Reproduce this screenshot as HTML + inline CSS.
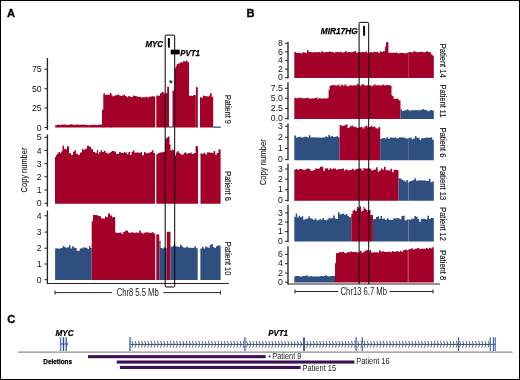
<!DOCTYPE html>
<html><head><meta charset="utf-8"><style>
html,body{margin:0;padding:0;background:#fff;}
body{width:520px;height:380px;overflow:hidden;}
svg{display:block;font-family:"Liberation Sans",sans-serif;will-change:transform;}
</style></head><body>
<svg width="520" height="380" viewBox="0 0 520 380">
<rect x="0" y="0" width="520" height="380" fill="#fff"/>
<path d="M55.20,127.50 L55.20,125.26 L56.78,125.26 L56.78,124.70 L58.35,124.70 L58.35,124.78 L59.93,124.78 L59.93,124.92 L61.51,124.92 L61.51,124.49 L63.08,124.49 L63.08,124.77 L64.66,124.77 L64.66,124.60 L66.24,124.60 L66.24,124.89 L67.81,124.89 L67.81,124.98 L69.39,124.98 L69.39,124.61 L70.97,124.61 L70.97,124.34 L72.54,124.34 L72.54,124.75 L74.12,124.75 L74.12,124.77 L75.70,124.77 L75.70,124.43 L77.27,124.43 L77.27,124.80 L78.85,124.80 L78.85,124.69 L80.43,124.69 L80.43,124.78 L82.00,124.78 L82.00,124.61 L83.58,124.61 L83.58,124.82 L85.16,124.82 L85.16,124.67 L86.73,124.67 L86.73,124.94 L88.31,124.94 L88.31,125.13 L89.89,125.13 L89.89,124.88 L91.46,124.88 L91.46,124.77 L93.04,124.77 L93.04,124.87 L94.62,124.87 L94.62,124.84 L96.19,124.84 L96.19,124.94 L97.77,124.94 L97.77,124.84 L99.35,124.84 L99.35,124.43 L100.92,124.43 L100.92,124.77 L102.50,124.77 L102.50,127.50Z" fill="#a3002a"/>
<path d="M102.00,127.50 L102.00,109.64 L103.30,109.64 L103.30,93.53 L104.97,93.53 L104.97,95.04 L106.65,95.04 L106.65,94.42 L108.33,94.42 L108.33,94.85 L110.00,94.85 L110.00,92.91 L111.50,92.91 L111.50,127.50Z" fill="#a3002a"/>
<path d="M111.00,127.50 L111.00,95.35 L112.56,95.35 L112.56,96.21 L114.11,96.21 L114.11,95.56 L115.67,95.56 L115.67,95.17 L117.22,95.17 L117.22,94.39 L118.78,94.39 L118.78,95.24 L120.33,95.24 L120.33,96.06 L121.89,96.06 L121.89,95.59 L123.44,95.59 L123.44,94.81 L125.00,94.81 L125.00,95.98 L126.60,95.98 L126.60,97.22 L128.20,97.22 L128.20,96.04 L129.80,96.04 L129.80,96.93 L131.40,96.93 L131.40,97.09 L133.00,97.09 L133.00,95.62 L134.50,95.62 L134.50,95.89 L136.00,95.89 L136.00,96.31 L137.60,96.31 L137.60,97.11 L139.20,97.11 L139.20,96.84 L140.80,96.84 L140.80,97.41 L142.40,97.41 L142.40,97.28 L144.00,97.28 L144.00,97.35 L145.60,97.35 L145.60,96.74 L147.20,96.74 L147.20,97.41 L148.80,97.41 L148.80,96.78 L150.40,96.78 L150.40,96.55 L152.00,96.55 L152.00,96.32 L153.60,96.32 L153.60,96.47 L155.20,96.47 L155.20,127.50Z" fill="#a3002a"/>
<path d="M156.30,127.50 L156.30,95.56 L158.15,95.56 L158.15,95.65 L160.00,95.65 L160.00,93.17 L161.83,93.17 L161.83,91.82 L163.67,91.82 L163.67,93.42 L165.50,93.42 L165.50,127.50Z" fill="#a3002a"/>
<path d="M165.50,127.50 L165.50,93.37 L167.20,93.37 L167.20,86.69 L169.00,86.69 L169.00,127.50Z" fill="#a3002a"/>
<path d="M172.50,127.50 L172.50,90.58 L174.50,90.58 L174.50,127.50Z" fill="#a3002a"/>
<path d="M174.80,127.50 L174.80,68.15 L175.80,68.15 L175.80,65.89 L176.80,65.89 L176.80,63.90 L178.00,63.90 L178.00,63.42 L179.00,63.42 L179.00,63.43 L180.00,63.43 L180.00,62.44 L181.00,62.44 L181.00,62.26 L182.00,62.26 L182.00,62.39 L183.00,62.39 L183.00,61.33 L184.00,61.33 L184.00,61.19 L185.00,61.19 L185.00,61.39 L186.00,61.39 L186.00,60.72 L186.75,60.72 L186.75,60.15 L187.50,60.15 L187.50,62.47 L188.25,62.47 L188.25,62.07 L189.00,62.07 L189.00,95.70 L190.00,95.70 L190.00,95.84 L191.00,95.84 L191.00,95.87 L192.00,95.87 L192.00,96.01 L193.00,96.01 L193.00,95.01 L193.93,95.01 L193.93,95.09 L194.87,95.09 L194.87,95.23 L195.80,95.23 L195.80,127.50Z" fill="#a3002a"/>
<path d="M195.90,127.50 L195.90,87.11 L196.85,87.11 L196.85,87.51 L197.80,87.51 L197.80,127.50Z" fill="#a3002a"/>
<path d="M200.00,127.50 L200.00,97.37 L201.50,97.37 L201.50,97.85 L203.00,97.85 L203.00,95.45 L204.17,95.45 L204.17,95.97 L205.33,95.97 L205.33,96.17 L206.50,96.17 L206.50,96.20 L207.67,96.20 L207.67,96.46 L208.83,96.46 L208.83,95.46 L210.00,95.46 L210.00,93.24 L211.70,93.24 L211.70,96.82 L213.20,96.82 L213.20,127.50Z" fill="#a3002a"/>
<rect x="169" y="126.4" width="3.5" height="1.2" fill="#2e4f80"/>
<rect x="213.2" y="126.5" width="7.6" height="1.3" fill="#2e4f80"/>
<line x1="47.4" y1="58" x2="47.4" y2="130" stroke="#262626" stroke-width="1.35"/>
<line x1="44.4" y1="69.25" x2="47.4" y2="69.25" stroke="#262626" stroke-width="1"/>
<text x="41.699999999999996" y="72.35" font-size="8.7" text-anchor="end" fill="#111">75</text>
<line x1="44.4" y1="88.75" x2="47.4" y2="88.75" stroke="#262626" stroke-width="1"/>
<text x="41.699999999999996" y="91.85" font-size="8.7" text-anchor="end" fill="#111">50</text>
<line x1="44.4" y1="108" x2="47.4" y2="108" stroke="#262626" stroke-width="1"/>
<text x="41.699999999999996" y="111.1" font-size="8.7" text-anchor="end" fill="#111">25</text>
<line x1="44.4" y1="127.5" x2="47.4" y2="127.5" stroke="#262626" stroke-width="1"/>
<text x="41.699999999999996" y="130.6" font-size="8.7" text-anchor="end" fill="#111">0</text>
<path d="M55.00,203.80 L55.00,157.00 L56.00,157.00 L56.00,155.15 L57.00,155.15 L57.00,153.64 L58.50,153.64 L58.50,152.12 L60.00,152.12 L60.00,153.37 L61.25,153.37 L61.25,151.34 L62.50,151.34 L62.50,145.83 L64.00,145.83 L64.00,148.67 L65.00,148.67 L65.00,149.34 L67.00,149.34 L67.00,146.18 L69.00,146.18 L69.00,153.32 L71.00,153.32 L71.00,155.10 L73.00,155.10 L73.00,151.69 L74.50,151.69 L74.50,150.34 L76.00,150.34 L76.00,154.05 L78.00,154.05 L78.00,154.82 L80.00,154.82 L80.00,152.56 L82.00,152.56 L82.00,148.85 L83.50,148.85 L83.50,149.99 L85.00,149.99 L85.00,148.63 L87.00,148.63 L87.00,145.77 L89.00,145.77 L89.00,146.81 L91.00,146.81 L91.00,149.24 L93.00,149.24 L93.00,152.12 L95.00,152.12 L95.00,152.86 L97.00,152.86 L97.00,149.95 L98.00,149.95 L98.00,153.95 L99.00,153.95 L99.00,152.14 L100.62,152.14 L100.62,150.34 L102.25,150.34 L102.25,151.93 L103.88,151.93 L103.88,150.70 L105.50,150.70 L105.50,152.71 L107.12,152.71 L107.12,153.55 L108.75,153.55 L108.75,153.36 L110.38,153.36 L110.38,151.78 L112.00,151.78 L112.00,151.12 L114.00,151.12 L114.00,151.57 L116.00,151.57 L116.00,153.94 L117.56,153.94 L117.56,153.72 L119.11,153.72 L119.11,151.93 L120.67,151.93 L120.67,152.79 L122.22,152.79 L122.22,152.92 L123.78,152.92 L123.78,152.13 L125.33,152.13 L125.33,152.53 L126.89,152.53 L126.89,154.29 L128.44,154.29 L128.44,151.91 L130.00,151.91 L130.00,155.03 L131.50,155.03 L131.50,151.82 L133.00,151.82 L133.00,150.60 L134.50,150.60 L134.50,152.66 L136.00,152.66 L136.00,152.43 L137.50,152.43 L137.50,152.47 L139.00,152.47 L139.00,153.09 L140.50,153.09 L140.50,151.95 L142.00,151.95 L142.00,155.31 L144.00,155.31 L144.00,152.10 L145.57,152.10 L145.57,153.30 L147.14,153.30 L147.14,153.32 L148.71,153.32 L148.71,152.77 L150.29,152.77 L150.29,151.97 L151.86,151.97 L151.86,150.24 L153.43,150.24 L153.43,152.93 L155.00,152.93 L155.00,203.80Z" fill="#a3002a"/>
<path d="M156.30,203.80 L156.30,154.20 L157.53,154.20 L157.53,153.54 L158.77,153.54 L158.77,152.68 L160.00,152.68 L160.00,152.40 L161.50,152.40 L161.50,152.13 L163.00,152.13 L163.00,151.63 L164.10,151.63 L164.10,152.22 L165.20,152.22 L165.20,138.80 L166.50,138.80 L166.50,137.39 L168.00,137.39 L168.00,136.55 L169.50,136.55 L169.50,144.50 L170.50,144.50 L170.50,150.50 L172.00,150.50 L172.00,149.59 L173.25,149.59 L173.25,150.15 L174.50,150.15 L174.50,155.50 L176.00,155.50 L176.00,152.53 L177.31,152.53 L177.31,151.00 L178.61,151.00 L178.61,152.65 L179.92,152.65 L179.92,154.01 L181.23,154.01 L181.23,154.72 L182.53,154.72 L182.53,154.61 L183.84,154.61 L183.84,152.76 L185.15,152.76 L185.15,152.58 L186.45,152.58 L186.45,153.81 L187.76,153.81 L187.76,153.17 L189.07,153.17 L189.07,153.26 L190.37,153.26 L190.37,152.55 L191.68,152.55 L191.68,154.05 L192.99,154.05 L192.99,153.56 L194.29,153.56 L194.29,153.08 L195.60,153.08 L195.60,145.88 L196.80,145.88 L196.80,146.17 L198.00,146.17 L198.00,203.80Z" fill="#a3002a"/>
<path d="M200.50,203.80 L200.50,153.59 L202.14,153.59 L202.14,153.81 L203.77,153.81 L203.77,152.64 L205.41,152.64 L205.41,154.39 L207.05,154.39 L207.05,152.32 L208.68,152.32 L208.68,152.40 L210.32,152.40 L210.32,152.71 L211.95,152.71 L211.95,152.95 L213.59,152.95 L213.59,151.00 L215.23,151.00 L215.23,154.67 L216.86,154.67 L216.86,153.08 L218.50,153.08 L218.50,149.43 L220.60,149.43 L220.60,203.80Z" fill="#a3002a"/>
<line x1="47.4" y1="134.4" x2="47.4" y2="206.6" stroke="#262626" stroke-width="1.35"/>
<line x1="44.4" y1="137.3" x2="47.4" y2="137.3" stroke="#262626" stroke-width="1"/>
<text x="41.699999999999996" y="140.4" font-size="8.7" text-anchor="end" fill="#111">5</text>
<line x1="44.4" y1="150.4" x2="47.4" y2="150.4" stroke="#262626" stroke-width="1"/>
<text x="41.699999999999996" y="153.5" font-size="8.7" text-anchor="end" fill="#111">4</text>
<line x1="44.4" y1="163.7" x2="47.4" y2="163.7" stroke="#262626" stroke-width="1"/>
<text x="41.699999999999996" y="166.79999999999998" font-size="8.7" text-anchor="end" fill="#111">3</text>
<line x1="44.4" y1="176.8" x2="47.4" y2="176.8" stroke="#262626" stroke-width="1"/>
<text x="41.699999999999996" y="179.9" font-size="8.7" text-anchor="end" fill="#111">2</text>
<line x1="44.4" y1="190" x2="47.4" y2="190" stroke="#262626" stroke-width="1"/>
<text x="41.699999999999996" y="193.1" font-size="8.7" text-anchor="end" fill="#111">1</text>
<line x1="44.4" y1="203.3" x2="47.4" y2="203.3" stroke="#262626" stroke-width="1"/>
<text x="41.699999999999996" y="206.4" font-size="8.7" text-anchor="end" fill="#111">0</text>
<path d="M55.10,279.90 L55.10,248.59 L56.64,248.59 L56.64,248.16 L58.19,248.16 L58.19,248.81 L59.73,248.81 L59.73,248.23 L61.28,248.23 L61.28,247.65 L62.82,247.65 L62.82,246.06 L64.37,246.06 L64.37,247.30 L65.91,247.30 L65.91,247.64 L67.46,247.64 L67.46,247.25 L69.00,247.25 L69.00,245.30 L70.50,245.30 L70.50,248.54 L72.04,248.54 L72.04,246.23 L73.58,246.23 L73.58,247.50 L75.12,247.50 L75.12,248.03 L76.67,248.03 L76.67,250.66 L78.21,250.66 L78.21,250.81 L79.75,250.81 L79.75,248.41 L81.29,248.41 L81.29,248.27 L82.83,248.27 L82.83,247.34 L84.38,247.34 L84.38,247.75 L85.92,247.75 L85.92,247.69 L87.46,247.69 L87.46,249.12 L89.00,249.12 L89.00,246.05 L90.30,246.05 L90.30,247.98 L91.70,247.98 L91.70,279.90Z" fill="#2e4f80"/>
<path d="M91.70,279.90 L91.70,221.28 L93.00,221.28 L93.00,214.94 L95.00,214.94 L95.00,214.95 L96.50,214.95 L96.50,215.28 L98.00,215.28 L98.00,216.01 L99.50,216.01 L99.50,216.14 L101.00,216.14 L101.00,218.42 L103.00,218.42 L103.00,218.41 L105.00,218.41 L105.00,216.45 L106.50,216.45 L106.50,217.23 L108.00,217.23 L108.00,213.45 L110.00,213.45 L110.00,215.62 L112.00,215.62 L112.00,217.19 L113.60,217.19 L113.60,216.90 L115.20,216.90 L115.20,232.48 L116.80,232.48 L116.80,233.00 L118.40,233.00 L118.40,232.77 L120.00,232.77 L120.00,232.62 L121.60,232.62 L121.60,234.07 L123.20,234.07 L123.20,232.00 L124.80,232.00 L124.80,230.83 L126.40,230.83 L126.40,230.43 L128.00,230.43 L128.00,232.56 L129.60,232.56 L129.60,232.80 L131.20,232.80 L131.20,232.32 L132.80,232.32 L132.80,232.74 L134.40,232.74 L134.40,232.79 L136.00,232.79 L136.00,232.58 L137.60,232.58 L137.60,232.75 L139.20,232.75 L139.20,230.58 L140.80,230.58 L140.80,232.66 L142.40,232.66 L142.40,233.41 L144.00,233.41 L144.00,232.84 L145.60,232.84 L145.60,232.27 L147.20,232.27 L147.20,232.40 L148.80,232.40 L148.80,232.68 L150.40,232.68 L150.40,232.72 L152.00,232.72 L152.00,232.29 L153.60,232.29 L153.60,233.41 L155.20,233.41 L155.20,279.90Z" fill="#a3002a"/>
<path d="M156.30,279.90 L156.30,234.36 L157.80,234.36 L157.80,234.44 L159.30,234.44 L159.30,279.90Z" fill="#a3002a"/>
<path d="M159.30,279.90 L159.30,240.77 L160.60,240.77 L160.60,248.12 L162.15,248.12 L162.15,248.39 L163.70,248.39 L163.70,247.36 L165.25,247.36 L165.25,248.18 L166.80,248.18 L166.80,279.90Z" fill="#2e4f80"/>
<path d="M166.80,279.90 L166.80,231.66 L168.65,231.66 L168.65,231.85 L170.50,231.85 L170.50,279.90Z" fill="#a3002a"/>
<path d="M170.50,279.90 L170.50,246.87 L172.10,246.87 L172.10,246.15 L173.70,246.15 L173.70,244.53 L175.30,244.53 L175.30,246.60 L176.90,246.60 L176.90,246.39 L178.50,246.39 L178.50,246.97 L180.10,246.97 L180.10,244.77 L181.70,244.77 L181.70,246.49 L183.30,246.49 L183.30,247.69 L184.90,247.69 L184.90,247.59 L186.50,247.59 L186.50,246.65 L188.10,246.65 L188.10,247.74 L189.70,247.74 L189.70,247.78 L191.30,247.78 L191.30,247.93 L192.90,247.93 L192.90,247.82 L194.50,247.82 L194.50,246.20 L196.10,246.20 L196.10,248.35 L197.70,248.35 L197.70,279.90Z" fill="#2e4f80"/>
<path d="M200.40,279.90 L200.40,248.55 L201.95,248.55 L201.95,246.75 L203.51,246.75 L203.51,248.58 L205.06,248.58 L205.06,246.50 L206.62,246.50 L206.62,247.36 L208.17,247.36 L208.17,247.84 L209.72,247.84 L209.72,245.01 L211.28,245.01 L211.28,243.96 L212.83,243.96 L212.83,246.97 L214.38,246.97 L214.38,247.94 L215.94,247.94 L215.94,246.19 L217.49,246.19 L217.49,245.36 L219.05,245.36 L219.05,245.86 L220.60,245.86 L220.60,279.90Z" fill="#2e4f80"/>
<line x1="47.4" y1="210.5" x2="47.4" y2="283.5" stroke="#262626" stroke-width="1.35"/>
<line x1="44.4" y1="215.8" x2="47.4" y2="215.8" stroke="#262626" stroke-width="1"/>
<text x="41.699999999999996" y="218.9" font-size="8.7" text-anchor="end" fill="#111">4</text>
<line x1="44.4" y1="232.1" x2="47.4" y2="232.1" stroke="#262626" stroke-width="1"/>
<text x="41.699999999999996" y="235.2" font-size="8.7" text-anchor="end" fill="#111">3</text>
<line x1="44.4" y1="248.2" x2="47.4" y2="248.2" stroke="#262626" stroke-width="1"/>
<text x="41.699999999999996" y="251.29999999999998" font-size="8.7" text-anchor="end" fill="#111">2</text>
<line x1="44.4" y1="264" x2="47.4" y2="264" stroke="#262626" stroke-width="1"/>
<text x="41.699999999999996" y="267.1" font-size="8.7" text-anchor="end" fill="#111">1</text>
<line x1="44.4" y1="279.7" x2="47.4" y2="279.7" stroke="#262626" stroke-width="1"/>
<text x="41.699999999999996" y="282.8" font-size="8.7" text-anchor="end" fill="#111">0</text>
<line x1="46.8" y1="283.45" x2="228.8" y2="283.45" stroke="#262626" stroke-width="1.1"/>
<rect x="165.2" y="35.1" width="9.5" height="251.9" rx="1" fill="none" stroke="#000" stroke-width="1"/>
<rect x="167.9" y="37.9" width="2.0" height="9.9" rx="0.8" fill="#000"/>
<rect x="170.7" y="49.7" width="9.0" height="4.7" fill="#000"/>
<text x="145.4" y="47" font-size="9.3" font-weight="bold" font-style="italic" fill="#000" stroke="#000" stroke-width="0.25" textLength="17.6" lengthAdjust="spacingAndGlyphs">MYC</text>
<text x="180.3" y="55.7" font-size="9.3" font-weight="bold" font-style="italic" fill="#000" stroke="#000" stroke-width="0.25" textLength="19.7" lengthAdjust="spacingAndGlyphs">PVT1</text>
<text x="170.8" y="86" font-size="9.5" font-weight="bold" text-anchor="middle" fill="#222">*</text>
<text transform="translate(224.8,94.9) rotate(90)" x="0" y="0" font-size="9" fill="#111" stroke="#111" stroke-width="0.12" textLength="28.9" lengthAdjust="spacingAndGlyphs">Patient 9</text>
<text transform="translate(224.8,171.2) rotate(90)" x="0" y="0" font-size="9" fill="#111" stroke="#111" stroke-width="0.12" textLength="29.6" lengthAdjust="spacingAndGlyphs">Patient 6</text>
<text transform="translate(224.8,241.7) rotate(90)" x="0" y="0" font-size="9" fill="#111" stroke="#111" stroke-width="0.12" textLength="33.7" lengthAdjust="spacingAndGlyphs">Patient 10</text>
<text transform="translate(27.3,192.4) rotate(-90)" x="0" y="0" font-size="9.8" fill="#111" stroke="#111" stroke-width="0.1" textLength="44.8" lengthAdjust="spacingAndGlyphs">Copy number</text>
<line x1="55" y1="292.6" x2="112" y2="292.6" stroke="#262626" stroke-width="1"/>
<line x1="55" y1="290.6" x2="55" y2="294.6" stroke="#262626" stroke-width="1"/>
<line x1="163.3" y1="292.6" x2="220.4" y2="292.6" stroke="#262626" stroke-width="1"/>
<line x1="220.4" y1="290.6" x2="220.4" y2="294.6" stroke="#262626" stroke-width="1"/>
<text x="116.7" y="295.7" font-size="10" fill="#222" textLength="42" lengthAdjust="spacingAndGlyphs">Chr8 5.5 Mb</text>
<path d="M294.30,77.90 L294.30,52.00 L295.89,52.00 L295.89,52.73 L297.47,52.73 L297.48,53.10 L299.06,53.10 L299.06,52.79 L300.65,52.79 L300.65,53.38 L302.24,53.38 L302.24,52.34 L303.82,52.34 L303.82,52.56 L305.41,52.56 L305.41,52.96 L307.00,52.96 L307.00,49.95 L308.50,49.95 L308.50,52.03 L310.09,52.03 L310.09,51.98 L311.67,51.98 L311.67,52.43 L313.26,52.43 L313.26,51.90 L314.84,51.90 L314.84,52.13 L316.43,52.13 L316.43,52.34 L318.01,52.34 L318.01,51.89 L319.60,51.89 L319.60,52.45 L321.18,52.45 L321.18,51.16 L322.77,51.16 L322.77,52.21 L324.35,52.21 L324.35,52.31 L325.94,52.31 L325.94,51.88 L327.52,51.88 L327.52,51.90 L329.11,51.90 L329.11,51.38 L330.69,51.38 L330.69,52.03 L332.28,52.03 L332.28,52.34 L333.86,52.34 L333.86,52.44 L335.45,52.44 L335.45,52.31 L337.03,52.31 L337.03,51.87 L338.62,51.87 L338.62,52.13 L340.20,52.13 L340.20,51.81 L341.79,51.81 L341.79,52.40 L343.37,52.40 L343.37,52.24 L344.96,52.24 L344.96,51.34 L346.54,51.34 L346.54,52.21 L348.13,52.21 L348.13,51.88 L349.71,51.88 L349.71,52.32 L351.30,52.32 L351.30,52.31 L352.88,52.31 L352.88,51.82 L354.47,51.82 L354.47,51.03 L356.05,51.03 L356.05,52.64 L357.64,52.64 L357.64,52.25 L359.22,52.25 L359.22,52.08 L360.81,52.08 L360.81,52.31 L362.39,52.31 L362.39,52.01 L363.98,52.01 L363.98,52.20 L365.56,52.20 L365.56,51.50 L367.15,51.50 L367.15,52.88 L368.73,52.88 L368.73,52.44 L370.32,52.44 L370.32,51.92 L371.90,51.92 L371.90,52.45 L373.49,52.45 L373.49,51.75 L375.07,51.75 L375.07,51.94 L376.66,51.94 L376.66,51.77 L378.24,51.77 L378.24,52.94 L379.83,52.94 L379.83,51.23 L381.41,51.23 L381.41,51.88 L383.00,51.88 L383.00,51.16 L385.10,51.16 L385.10,46.70 L386.00,46.70 L386.00,42.30 L388.40,42.30 L388.40,52.67 L389.95,52.67 L389.95,52.72 L391.49,52.72 L391.49,52.63 L393.04,52.63 L393.04,52.86 L394.58,52.86 L394.58,52.86 L396.13,52.86 L396.13,52.44 L397.68,52.44 L397.68,53.50 L399.22,53.50 L399.22,53.02 L400.77,53.02 L400.77,52.76 L402.32,52.76 L402.32,52.95 L403.86,52.95 L403.86,53.34 L405.41,53.34 L405.41,53.32 L406.95,53.32 L406.95,52.65 L408.50,52.65 L408.50,52.03 L410.11,52.03 L410.11,52.20 L411.71,52.20 L411.71,52.24 L413.32,52.24 L413.32,51.13 L414.93,51.13 L414.93,51.83 L416.54,51.83 L416.54,52.23 L418.14,52.23 L418.14,51.93 L419.75,51.93 L419.75,51.92 L421.36,51.92 L421.36,51.79 L422.96,51.79 L422.96,52.14 L424.57,52.14 L424.57,52.20 L426.18,52.20 L426.18,51.33 L427.79,51.33 L427.79,51.99 L429.39,51.99 L429.39,52.31 L431.00,52.31 L431.00,54.50 L432.50,54.50 L432.50,55.80 L433.80,55.80 L433.80,77.90Z" fill="#a3002a"/>
<line x1="408.5" y1="53" x2="408.5" y2="77.9" stroke="#fff" stroke-opacity="0.2" stroke-width="0.9"/>
<line x1="288" y1="41.7" x2="288" y2="78.5" stroke="#262626" stroke-width="1.35"/>
<line x1="285" y1="43.3" x2="288" y2="43.3" stroke="#262626" stroke-width="1"/>
<text x="282.9" y="45.9" font-size="8.7" text-anchor="end" fill="#111">8</text>
<line x1="285" y1="51.9" x2="288" y2="51.9" stroke="#262626" stroke-width="1"/>
<text x="282.9" y="54.5" font-size="8.7" text-anchor="end" fill="#111">6</text>
<line x1="285" y1="60.6" x2="288" y2="60.6" stroke="#262626" stroke-width="1"/>
<text x="282.9" y="63.2" font-size="8.7" text-anchor="end" fill="#111">4</text>
<line x1="285" y1="69.2" x2="288" y2="69.2" stroke="#262626" stroke-width="1"/>
<text x="282.9" y="71.8" font-size="8.7" text-anchor="end" fill="#111">2</text>
<line x1="285" y1="77.7" x2="288" y2="77.7" stroke="#262626" stroke-width="1"/>
<text x="282.9" y="80.3" font-size="8.7" text-anchor="end" fill="#111">0</text>
<path d="M294.30,118.90 L294.30,97.77 L295.31,97.77 L295.31,97.99 L296.32,97.99 L296.32,98.50 L297.33,98.50 L297.33,97.84 L298.34,97.84 L298.34,97.77 L299.34,97.77 L299.34,98.31 L300.35,98.31 L300.35,97.29 L301.36,97.29 L301.36,98.35 L302.37,98.35 L302.37,98.40 L303.38,98.40 L303.38,97.75 L304.39,97.75 L304.39,98.52 L305.40,98.52 L305.40,97.91 L306.41,97.91 L306.41,98.12 L307.41,98.12 L307.41,97.38 L308.42,97.38 L308.42,98.42 L309.43,98.42 L309.43,98.56 L310.44,98.56 L310.44,98.83 L311.45,98.83 L311.45,98.36 L312.46,98.36 L312.46,98.43 L313.47,98.43 L313.47,98.39 L314.48,98.39 L314.48,97.79 L315.49,97.79 L315.49,98.06 L316.49,98.06 L316.49,97.26 L317.50,97.26 L317.50,99.19 L318.51,99.19 L318.51,98.15 L319.52,98.15 L319.52,97.97 L320.53,97.97 L320.53,98.79 L321.54,98.79 L321.54,98.42 L322.55,98.42 L322.55,98.56 L323.56,98.56 L323.56,98.16 L324.56,98.16 L324.56,98.46 L325.57,98.46 L325.57,98.51 L326.58,98.51 L326.58,98.61 L327.59,98.61 L327.59,97.78 L328.60,97.78 L328.60,89.74 L329.60,89.74 L329.60,85.90 L330.60,85.90 L330.60,85.19 L331.60,85.19 L331.60,85.28 L332.60,85.28 L332.60,85.35 L333.59,85.35 L333.59,85.12 L334.59,85.12 L334.59,85.13 L335.59,85.13 L335.59,85.85 L336.59,85.85 L336.59,85.09 L337.59,85.09 L337.59,85.41 L338.59,85.41 L338.59,84.52 L339.58,84.52 L339.58,86.54 L340.58,86.54 L340.58,85.31 L341.58,85.31 L341.58,84.24 L342.58,84.24 L342.58,85.43 L343.58,85.43 L343.58,85.80 L344.58,85.80 L344.58,83.95 L345.57,83.95 L345.57,85.44 L346.57,85.44 L346.57,85.56 L347.57,85.56 L347.57,86.40 L348.57,86.40 L348.57,85.91 L349.57,85.91 L349.57,85.13 L350.57,85.13 L350.57,85.04 L351.56,85.04 L351.56,85.81 L352.56,85.81 L352.56,85.56 L353.56,85.56 L353.56,85.01 L354.56,85.01 L354.56,85.44 L355.56,85.44 L355.56,85.43 L356.56,85.43 L356.56,84.29 L357.55,84.29 L357.55,83.78 L358.55,83.78 L358.55,85.77 L359.55,85.77 L359.55,84.90 L360.55,84.90 L360.55,85.90 L361.55,85.90 L361.55,84.15 L362.55,84.15 L362.55,83.92 L363.55,83.92 L363.55,84.98 L364.54,84.98 L364.54,85.46 L365.54,85.46 L365.54,85.82 L366.54,85.82 L366.54,85.08 L367.54,85.08 L367.54,85.66 L368.54,85.66 L368.54,85.19 L369.54,85.19 L369.54,85.57 L370.53,85.57 L370.53,85.42 L371.53,85.42 L371.53,86.26 L372.53,86.26 L372.53,85.50 L373.53,85.50 L373.53,85.09 L374.53,85.09 L374.53,84.03 L375.53,84.03 L375.53,85.85 L376.52,85.85 L376.52,84.92 L377.52,84.92 L377.52,85.59 L378.52,85.59 L378.52,84.99 L379.52,84.99 L379.52,85.48 L380.52,85.48 L380.52,85.72 L381.52,85.72 L381.52,85.05 L382.51,85.05 L382.51,84.20 L383.51,84.20 L383.51,85.36 L384.51,85.36 L384.51,85.59 L385.51,85.59 L385.51,84.95 L386.51,84.95 L386.51,85.22 L387.51,85.22 L387.51,85.12 L388.50,85.12 L388.50,85.34 L389.50,85.34 L389.50,85.15 L390.50,85.15 L390.50,85.87 L391.50,85.87 L391.50,95.20 L392.50,95.20 L392.50,95.90 L393.50,95.90 L393.50,98.68 L394.25,98.68 L394.25,98.78 L395.00,98.78 L395.00,98.63 L396.00,98.63 L396.00,98.68 L397.00,98.68 L397.00,98.51 L398.00,98.51 L398.00,99.54 L399.00,99.54 L399.00,100.62 L399.75,100.62 L399.75,100.21 L400.50,100.21 L400.50,118.90Z" fill="#a3002a"/>
<path d="M400.50,118.90 L400.50,109.18 L402.09,109.18 L402.09,110.93 L403.67,110.93 L403.67,110.43 L405.26,110.43 L405.26,110.20 L406.84,110.20 L406.84,109.34 L408.43,109.34 L408.43,110.48 L410.01,110.48 L410.01,110.40 L411.60,110.40 L411.60,109.94 L413.19,109.94 L413.19,110.46 L414.77,110.46 L414.77,109.88 L416.36,109.88 L416.36,110.20 L417.94,110.20 L417.94,110.28 L419.53,110.28 L419.53,110.26 L421.11,110.26 L421.11,109.84 L422.70,109.84 L422.70,109.03 L424.29,109.03 L424.29,110.04 L425.87,110.04 L425.87,110.22 L427.46,110.22 L427.46,111.13 L429.04,111.13 L429.04,110.55 L430.63,110.55 L430.63,109.88 L432.21,109.88 L432.21,110.43 L433.80,110.43 L433.80,118.90Z" fill="#2e4f80"/>
<line x1="288" y1="82.2" x2="288" y2="119.5" stroke="#262626" stroke-width="1.35"/>
<line x1="285" y1="88.3" x2="288" y2="88.3" stroke="#262626" stroke-width="1"/>
<text x="282.9" y="90.89999999999999" font-size="8.7" text-anchor="end" fill="#111">7.5</text>
<line x1="285" y1="98.3" x2="288" y2="98.3" stroke="#262626" stroke-width="1"/>
<text x="282.9" y="100.89999999999999" font-size="8.7" text-anchor="end" fill="#111">5.0</text>
<line x1="285" y1="108.5" x2="288" y2="108.5" stroke="#262626" stroke-width="1"/>
<text x="282.9" y="111.1" font-size="8.7" text-anchor="end" fill="#111">2.5</text>
<line x1="285" y1="118.6" x2="288" y2="118.6" stroke="#262626" stroke-width="1"/>
<text x="282.9" y="121.19999999999999" font-size="8.7" text-anchor="end" fill="#111">0.0</text>
<path d="M294.30,160.20 L294.30,135.50 L296.00,135.50 L296.00,137.57 L297.61,137.57 L297.61,137.09 L299.23,137.09 L299.23,136.82 L300.84,136.82 L300.84,137.41 L302.46,137.41 L302.46,137.23 L304.07,137.23 L304.07,136.75 L305.69,136.75 L305.69,136.83 L307.30,136.83 L307.30,137.62 L308.92,137.62 L308.92,135.34 L310.53,135.34 L310.53,137.55 L312.15,137.55 L312.15,137.20 L313.76,137.20 L313.76,137.50 L315.38,137.50 L315.38,137.46 L316.99,137.46 L316.99,137.46 L318.61,137.46 L318.61,137.59 L320.22,137.59 L320.22,137.72 L321.84,137.72 L321.84,137.57 L323.45,137.57 L323.45,137.56 L325.07,137.56 L325.07,136.43 L326.68,136.43 L326.68,136.94 L328.30,136.94 L328.30,135.11 L329.91,135.11 L329.91,136.47 L331.53,136.47 L331.53,136.32 L333.14,136.32 L333.14,137.09 L334.76,137.09 L334.76,136.75 L336.37,136.75 L336.37,136.33 L337.99,136.33 L337.99,137.27 L339.60,137.27 L339.60,160.20Z" fill="#2e4f80"/>
<path d="M339.60,160.20 L339.60,125.09 L341.20,125.09 L341.20,125.77 L342.80,125.77 L342.80,125.65 L344.40,125.65 L344.40,125.25 L346.00,125.25 L346.00,124.16 L347.50,124.16 L347.50,128.05 L348.75,128.05 L348.75,127.55 L350.00,127.55 L350.00,126.22 L351.59,126.22 L351.59,125.60 L353.18,125.60 L353.18,126.64 L354.77,126.64 L354.77,126.87 L356.36,126.87 L356.36,127.64 L357.95,127.64 L357.95,127.72 L359.54,127.72 L359.54,127.27 L361.13,127.27 L361.13,127.07 L362.72,127.07 L362.72,128.52 L364.31,128.52 L364.31,126.49 L365.89,126.49 L365.89,125.58 L367.48,125.58 L367.48,127.50 L369.07,127.50 L369.07,126.88 L370.66,126.88 L370.66,125.79 L372.25,125.79 L372.25,127.05 L373.84,127.05 L373.84,126.47 L375.43,126.47 L375.43,128.18 L377.02,128.18 L377.02,128.60 L378.61,128.60 L378.61,127.09 L380.20,127.09 L380.20,160.20Z" fill="#a3002a"/>
<path d="M380.20,160.20 L380.20,138.69 L381.78,138.69 L381.78,138.37 L383.35,138.37 L383.35,138.04 L384.93,138.04 L384.93,138.40 L386.51,138.40 L386.51,137.18 L388.08,137.18 L388.08,138.87 L389.66,138.87 L389.66,137.58 L391.24,137.58 L391.24,137.42 L392.81,137.42 L392.81,137.90 L394.39,137.90 L394.39,137.36 L395.96,137.36 L395.96,138.26 L397.54,138.26 L397.54,138.28 L399.12,138.28 L399.12,137.22 L400.69,137.22 L400.69,137.28 L402.27,137.28 L402.27,137.85 L403.85,137.85 L403.85,137.55 L405.42,137.55 L405.42,138.46 L407.00,138.46 L407.00,138.57 L408.58,138.57 L408.58,137.73 L410.15,137.73 L410.15,137.52 L411.73,137.52 L411.73,139.14 L413.31,139.14 L413.31,138.56 L414.88,138.56 L414.88,136.05 L416.46,136.05 L416.46,137.70 L418.04,137.70 L418.04,137.80 L419.61,137.80 L419.61,140.11 L421.19,140.11 L421.19,138.06 L422.76,138.06 L422.76,138.28 L424.34,138.28 L424.34,138.04 L425.92,138.04 L425.92,137.43 L427.49,137.43 L427.49,137.65 L429.07,137.65 L429.07,137.87 L430.65,137.87 L430.65,137.26 L432.22,137.26 L432.22,139.82 L433.80,139.82 L433.80,160.20Z" fill="#2e4f80"/>
<line x1="408.6" y1="139" x2="408.6" y2="160.2" stroke="#fff" stroke-opacity="0.2" stroke-width="0.9"/>
<line x1="288" y1="123.5" x2="288" y2="160.3" stroke="#262626" stroke-width="1.35"/>
<line x1="285" y1="126.2" x2="288" y2="126.2" stroke="#262626" stroke-width="1"/>
<text x="282.9" y="128.8" font-size="8.7" text-anchor="end" fill="#111">3</text>
<line x1="285" y1="137.3" x2="288" y2="137.3" stroke="#262626" stroke-width="1"/>
<text x="282.9" y="139.9" font-size="8.7" text-anchor="end" fill="#111">2</text>
<line x1="285" y1="148.5" x2="288" y2="148.5" stroke="#262626" stroke-width="1"/>
<text x="282.9" y="151.1" font-size="8.7" text-anchor="end" fill="#111">1</text>
<line x1="285" y1="159.4" x2="288" y2="159.4" stroke="#262626" stroke-width="1"/>
<text x="282.9" y="162.0" font-size="8.7" text-anchor="end" fill="#111">0</text>
<path d="M294.30,200.80 L294.30,169.55 L295.90,169.55 L295.90,168.94 L297.51,168.94 L297.51,169.89 L299.11,169.89 L299.11,169.04 L300.71,169.04 L300.71,168.96 L302.32,168.96 L302.32,169.74 L303.92,169.74 L303.92,169.88 L305.52,169.88 L305.52,168.98 L307.12,168.98 L307.12,168.49 L308.73,168.49 L308.73,168.88 L310.33,168.88 L310.33,170.63 L311.93,170.63 L311.93,170.63 L313.54,170.63 L313.54,170.07 L315.14,170.07 L315.14,168.58 L316.74,168.58 L316.74,168.78 L318.35,168.78 L318.35,168.45 L319.95,168.45 L319.95,166.77 L321.55,166.77 L321.55,166.74 L323.16,166.74 L323.16,170.68 L324.76,170.68 L324.76,168.40 L326.36,168.40 L326.36,168.28 L327.96,168.28 L327.96,169.71 L329.57,169.71 L329.57,168.20 L331.17,168.20 L331.17,169.20 L332.77,169.20 L332.77,168.47 L334.38,168.47 L334.38,168.38 L335.98,168.38 L335.98,169.78 L337.58,169.78 L337.58,169.16 L339.19,169.16 L339.19,169.06 L340.79,169.06 L340.79,169.08 L342.39,169.08 L342.39,168.52 L344.00,168.52 L344.00,170.52 L345.60,170.52 L345.60,169.31 L347.20,169.31 L347.20,170.35 L348.80,170.35 L348.80,170.19 L350.41,170.19 L350.41,169.68 L352.01,169.68 L352.01,168.73 L353.61,168.73 L353.61,170.27 L355.22,170.27 L355.22,169.17 L356.82,169.17 L356.82,168.78 L358.42,168.78 L358.42,168.39 L360.03,168.39 L360.03,168.50 L361.63,168.50 L361.63,170.57 L363.23,170.57 L363.23,168.35 L364.84,168.35 L364.84,168.52 L366.44,168.52 L366.44,168.45 L368.04,168.45 L368.04,168.31 L369.64,168.31 L369.64,168.72 L371.25,168.72 L371.25,170.50 L372.85,170.50 L372.85,170.12 L374.45,170.12 L374.45,169.48 L376.06,169.48 L376.06,167.37 L377.66,167.37 L377.66,171.83 L379.26,171.83 L379.26,170.50 L380.87,170.50 L380.87,168.46 L382.47,168.46 L382.47,169.67 L384.07,169.67 L384.07,166.82 L385.68,166.82 L385.68,170.23 L387.28,170.23 L387.28,170.36 L388.88,170.36 L388.88,170.52 L390.48,170.52 L390.48,168.86 L392.09,168.86 L392.09,172.33 L393.69,172.33 L393.69,169.70 L395.29,169.70 L395.29,169.74 L396.90,169.74 L396.90,169.90 L398.50,169.90 L398.50,200.80Z" fill="#a3002a"/>
<path d="M398.50,200.80 L398.50,178.37 L400.00,178.37 L400.00,178.50 L401.50,178.50 L401.50,179.76 L403.00,179.76 L403.00,180.62 L404.62,180.62 L404.62,181.49 L406.24,181.49 L406.24,179.97 L407.86,179.97 L407.86,182.37 L409.48,182.37 L409.48,181.13 L411.11,181.13 L411.11,180.77 L412.73,180.77 L412.73,180.05 L414.35,180.05 L414.35,178.37 L415.97,178.37 L415.97,180.82 L417.59,180.82 L417.59,180.23 L419.21,180.23 L419.21,180.53 L420.83,180.53 L420.83,180.23 L422.45,180.23 L422.45,180.46 L424.07,180.46 L424.07,180.18 L425.69,180.18 L425.69,181.04 L427.32,181.04 L427.32,180.75 L428.94,180.75 L428.94,178.80 L430.56,178.80 L430.56,182.24 L432.18,182.24 L432.18,181.54 L433.80,181.54 L433.80,200.80Z" fill="#2e4f80"/>
<line x1="408.5" y1="181.5" x2="408.5" y2="200.8" stroke="#fff" stroke-opacity="0.3" stroke-width="0.9"/>
<line x1="288" y1="163.8" x2="288" y2="201.5" stroke="#262626" stroke-width="1.35"/>
<line x1="285" y1="169" x2="288" y2="169" stroke="#262626" stroke-width="1"/>
<text x="282.9" y="171.6" font-size="8.7" text-anchor="end" fill="#111">3</text>
<line x1="285" y1="179.2" x2="288" y2="179.2" stroke="#262626" stroke-width="1"/>
<text x="282.9" y="181.79999999999998" font-size="8.7" text-anchor="end" fill="#111">2</text>
<line x1="285" y1="189.8" x2="288" y2="189.8" stroke="#262626" stroke-width="1"/>
<text x="282.9" y="192.4" font-size="8.7" text-anchor="end" fill="#111">1</text>
<line x1="285" y1="200.4" x2="288" y2="200.4" stroke="#262626" stroke-width="1"/>
<text x="282.9" y="203.0" font-size="8.7" text-anchor="end" fill="#111">0</text>
<path d="M294.30,241.50 L294.30,216.75 L295.73,216.75 L295.73,213.41 L297.15,213.41 L297.15,217.54 L298.57,217.54 L298.57,215.87 L300.00,215.87 L300.00,217.14 L301.64,217.14 L301.64,216.36 L303.27,216.36 L303.27,219.66 L304.91,219.66 L304.91,218.69 L306.55,218.69 L306.55,218.68 L308.18,218.68 L308.18,216.43 L309.82,216.43 L309.82,218.27 L311.45,218.27 L311.45,218.87 L313.09,218.87 L313.09,220.00 L314.73,220.00 L314.73,218.48 L316.36,218.48 L316.36,220.62 L318.00,220.62 L318.00,220.02 L319.50,220.02 L319.50,219.00 L321.00,219.00 L321.00,219.78 L322.50,219.78 L322.50,218.05 L324.00,218.05 L324.00,219.83 L325.50,219.83 L325.50,220.14 L327.00,220.14 L327.00,219.57 L328.50,219.57 L328.50,217.97 L330.00,217.97 L330.00,218.46 L331.60,218.46 L331.60,217.93 L333.20,217.93 L333.20,215.57 L334.80,215.57 L334.80,218.56 L336.40,218.56 L336.40,219.04 L338.00,219.04 L338.00,212.15 L339.57,212.15 L339.57,214.42 L341.14,214.42 L341.14,214.01 L342.71,214.01 L342.71,213.47 L344.29,213.47 L344.29,215.00 L345.86,215.00 L345.86,213.93 L347.43,213.93 L347.43,216.08 L349.00,216.08 L349.00,217.26 L351.30,217.26 L351.30,241.50Z" fill="#2e4f80"/>
<path d="M351.30,241.50 L351.30,214.10 L352.50,214.10 L352.50,210.80 L353.80,210.80 L353.80,209.80 L355.00,209.80 L355.00,210.80 L357.00,210.80 L357.00,207.10 L358.50,207.10 L358.50,208.40 L359.50,208.40 L359.50,206.20 L361.00,206.20 L361.00,211.50 L362.00,211.50 L362.00,210.80 L363.50,210.80 L363.50,206.70 L364.50,206.70 L364.50,208.70 L366.00,208.70 L366.00,210.10 L367.50,210.10 L367.50,212.10 L368.50,212.10 L368.50,210.10 L370.50,210.10 L370.50,215.10 L372.90,215.10 L372.90,241.50Z" fill="#a3002a"/>
<path d="M372.90,241.50 L372.90,219.20 L374.45,219.20 L374.45,219.11 L376.00,219.11 L376.00,216.97 L377.50,216.97 L377.50,216.33 L379.00,216.33 L379.00,218.76 L380.50,218.76 L380.50,215.94 L382.00,215.94 L382.00,218.83 L383.62,218.83 L383.62,218.85 L385.24,218.85 L385.24,219.98 L386.86,219.98 L386.86,218.33 L388.47,218.33 L388.48,219.80 L390.09,219.80 L390.09,219.67 L391.71,219.67 L391.71,220.01 L393.33,220.01 L393.33,218.37 L394.95,218.37 L394.95,218.49 L396.57,218.49 L396.57,217.99 L398.19,217.99 L398.19,218.41 L399.81,218.41 L399.81,219.25 L401.42,219.25 L401.43,216.00 L403.04,216.00 L403.04,215.69 L404.66,215.69 L404.66,220.60 L406.28,220.60 L406.28,219.60 L407.90,219.60 L407.90,219.47 L409.52,219.47 L409.52,219.80 L411.14,219.80 L411.14,218.80 L412.76,218.80 L412.76,218.76 L414.38,218.76 L414.38,216.11 L415.99,216.11 L415.99,216.63 L417.61,216.63 L417.61,218.98 L419.23,218.98 L419.23,221.69 L420.85,221.69 L420.85,219.11 L422.47,219.11 L422.47,218.74 L424.09,218.74 L424.09,218.79 L425.71,218.79 L425.71,219.56 L427.32,219.56 L427.32,215.75 L428.94,215.75 L428.94,219.08 L430.56,219.08 L430.56,218.08 L432.18,218.08 L432.18,217.98 L433.80,217.98 L433.80,241.50Z" fill="#2e4f80"/>
<line x1="408.5" y1="219.5" x2="408.5" y2="241.5" stroke="#fff" stroke-opacity="0.3" stroke-width="0.9"/>
<line x1="288" y1="204.8" x2="288" y2="242.3" stroke="#262626" stroke-width="1.35"/>
<line x1="285" y1="212.9" x2="288" y2="212.9" stroke="#262626" stroke-width="1"/>
<text x="282.9" y="215.5" font-size="8.7" text-anchor="end" fill="#111">3</text>
<line x1="285" y1="222.1" x2="288" y2="222.1" stroke="#262626" stroke-width="1"/>
<text x="282.9" y="224.7" font-size="8.7" text-anchor="end" fill="#111">2</text>
<line x1="285" y1="231.7" x2="288" y2="231.7" stroke="#262626" stroke-width="1"/>
<text x="282.9" y="234.29999999999998" font-size="8.7" text-anchor="end" fill="#111">1</text>
<line x1="285" y1="241.3" x2="288" y2="241.3" stroke="#262626" stroke-width="1"/>
<text x="282.9" y="243.9" font-size="8.7" text-anchor="end" fill="#111">0</text>
<path d="M294.30,282.40 L294.30,276.16 L295.93,276.16 L295.93,276.11 L297.56,276.11 L297.56,275.93 L299.18,275.93 L299.18,276.41 L300.81,276.41 L300.81,276.52 L302.44,276.52 L302.44,276.09 L304.07,276.09 L304.07,275.91 L305.70,275.91 L305.70,275.29 L307.32,275.29 L307.32,276.26 L308.95,276.26 L308.95,276.60 L310.58,276.60 L310.58,276.06 L312.21,276.06 L312.21,276.52 L313.84,276.52 L313.84,276.46 L315.46,276.46 L315.46,276.16 L317.09,276.16 L317.09,276.57 L318.72,276.57 L318.72,276.47 L320.35,276.47 L320.35,276.08 L321.98,276.08 L321.98,276.27 L323.60,276.27 L323.60,275.88 L325.23,275.88 L325.23,275.34 L326.86,275.34 L326.86,276.01 L328.49,276.01 L328.49,276.54 L330.12,276.54 L330.12,275.88 L331.74,275.88 L331.74,275.95 L333.37,275.95 L333.37,276.11 L335.00,276.11 L335.00,282.40Z" fill="#2e4f80"/>
<path d="M335.00,282.40 L335.00,263.34 L336.00,263.34 L336.00,253.16 L337.60,253.16 L337.60,252.88 L339.19,252.88 L339.19,251.95 L340.79,251.95 L340.79,252.32 L342.38,252.32 L342.38,251.82 L343.98,251.82 L343.98,252.86 L345.57,252.86 L345.57,253.32 L347.17,253.32 L347.17,252.10 L348.76,252.10 L348.76,252.28 L350.36,252.28 L350.36,251.56 L351.95,251.56 L351.95,251.97 L353.55,251.97 L353.55,252.31 L355.14,252.31 L355.14,252.12 L356.74,252.12 L356.74,252.39 L358.33,252.39 L358.33,252.39 L359.93,252.39 L359.93,250.73 L361.52,250.73 L361.52,252.77 L363.12,252.77 L363.12,251.67 L364.71,251.67 L364.71,250.85 L366.31,250.85 L366.31,249.89 L367.90,249.89 L367.90,251.78 L369.50,251.78 L369.50,249.92 L371.10,249.92 L371.10,252.55 L372.69,252.55 L372.69,252.46 L374.29,252.46 L374.29,252.16 L375.88,252.16 L375.88,252.18 L377.48,252.18 L377.48,252.52 L379.07,252.52 L379.07,250.33 L380.67,250.33 L380.67,251.80 L382.26,251.80 L382.26,251.19 L383.86,251.19 L383.86,251.70 L385.45,251.70 L385.45,251.91 L387.05,251.91 L387.05,251.91 L388.64,251.91 L388.64,251.51 L390.24,251.51 L390.24,252.13 L391.83,252.13 L391.83,251.05 L393.43,251.05 L393.43,251.91 L395.02,251.91 L395.02,251.50 L396.62,251.50 L396.62,251.06 L398.21,251.06 L398.21,252.12 L399.81,252.12 L399.81,251.05 L401.40,251.05 L401.40,251.82 L403.00,251.82 L403.00,250.35 L404.73,250.35 L404.73,249.41 L406.47,249.41 L406.47,250.29 L408.20,250.29 L408.20,249.47 L409.80,249.47 L409.80,248.64 L411.40,248.64 L411.40,248.61 L413.00,248.61 L413.00,249.41 L414.60,249.41 L414.60,248.86 L416.20,248.86 L416.20,248.40 L417.80,248.40 L417.80,248.08 L419.40,248.08 L419.40,249.28 L421.00,249.28 L421.00,248.63 L422.60,248.63 L422.60,248.68 L424.20,248.68 L424.20,248.74 L425.80,248.74 L425.80,247.99 L427.40,247.99 L427.40,248.72 L429.00,248.72 L429.00,247.73 L430.60,247.73 L430.60,248.40 L432.20,248.40 L432.20,247.19 L433.80,247.19 L433.80,282.40Z" fill="#a3002a"/>
<line x1="408.2" y1="250.5" x2="408.2" y2="282.4" stroke="#fff" stroke-opacity="0.45" stroke-width="0.9"/>
<line x1="288" y1="246.2" x2="288" y2="284.5" stroke="#262626" stroke-width="1.35"/>
<line x1="285" y1="254.4" x2="288" y2="254.4" stroke="#262626" stroke-width="1"/>
<text x="282.9" y="257.0" font-size="8.7" text-anchor="end" fill="#111">6</text>
<line x1="285" y1="263.7" x2="288" y2="263.7" stroke="#262626" stroke-width="1"/>
<text x="282.9" y="266.3" font-size="8.7" text-anchor="end" fill="#111">4</text>
<line x1="285" y1="273.1" x2="288" y2="273.1" stroke="#262626" stroke-width="1"/>
<text x="282.9" y="275.70000000000005" font-size="8.7" text-anchor="end" fill="#111">2</text>
<line x1="285" y1="282.3" x2="288" y2="282.3" stroke="#262626" stroke-width="1"/>
<text x="282.9" y="284.90000000000003" font-size="8.7" text-anchor="end" fill="#111">0</text>
<line x1="287.5" y1="284.0" x2="440" y2="284.0" stroke="#262626" stroke-width="1.2"/>
<path d="M359.1,284 V23.4 Q359.1,22.4 360.1,22.4 H367.7 Q368.7,22.4 368.7,23.4 V284" fill="none" stroke="#000" stroke-width="1"/>
<rect x="363.1" y="25.8" width="2.0" height="10.1" rx="0.8" fill="#000"/>
<text x="320.8" y="34.2" font-size="9.3" font-weight="bold" font-style="italic" fill="#000" stroke="#000" stroke-width="0.25" textLength="36.9" lengthAdjust="spacingAndGlyphs">MIR17HG</text>
<text transform="translate(440.2,43.8) rotate(90)" x="0" y="0" font-size="9" fill="#111" stroke="#111" stroke-width="0.12" textLength="33.8" lengthAdjust="spacingAndGlyphs">Patient 14</text>
<text transform="translate(440.2,84.6) rotate(90)" x="0" y="0" font-size="9" fill="#111" stroke="#111" stroke-width="0.12" textLength="33.0" lengthAdjust="spacingAndGlyphs">Patient 11</text>
<text transform="translate(440.2,127.4) rotate(90)" x="0" y="0" font-size="9" fill="#111" stroke="#111" stroke-width="0.12" textLength="30.2" lengthAdjust="spacingAndGlyphs">Patient 6</text>
<text transform="translate(440.2,165.9) rotate(90)" x="0" y="0" font-size="9" fill="#111" stroke="#111" stroke-width="0.12" textLength="34.4" lengthAdjust="spacingAndGlyphs">Patient 13</text>
<text transform="translate(440.2,207.2) rotate(90)" x="0" y="0" font-size="9" fill="#111" stroke="#111" stroke-width="0.12" textLength="33.7" lengthAdjust="spacingAndGlyphs">Patient 12</text>
<text transform="translate(440.2,250.3) rotate(90)" x="0" y="0" font-size="9" fill="#111" stroke="#111" stroke-width="0.12" textLength="30.0" lengthAdjust="spacingAndGlyphs">Patient 8</text>
<text transform="translate(265.6,185.3) rotate(-90)" x="0" y="0" font-size="9.8" fill="#111" stroke="#111" stroke-width="0.1" textLength="46.0" lengthAdjust="spacingAndGlyphs">Copy number</text>
<line x1="295" y1="291.5" x2="338.3" y2="291.5" stroke="#262626" stroke-width="1"/>
<line x1="295" y1="289.5" x2="295" y2="293.5" stroke="#262626" stroke-width="1"/>
<line x1="389.5" y1="291.5" x2="433" y2="291.5" stroke="#262626" stroke-width="1"/>
<line x1="433" y1="289.5" x2="433" y2="293.5" stroke="#262626" stroke-width="1"/>
<text x="340.6" y="295" font-size="10.2" fill="#222" textLength="46.4" lengthAdjust="spacingAndGlyphs">Chr13 6.7 Mb</text>
<line x1="18" y1="352.2" x2="512.5" y2="352.2" stroke="#8e8e8e" stroke-width="1.2"/>
<line x1="60.6" y1="337.2" x2="60.6" y2="351.0" stroke="#5a7abb" stroke-width="1.4"/>
<line x1="63.5" y1="337.2" x2="63.5" y2="351.0" stroke="#2f4f93" stroke-width="1.4"/>
<line x1="66.3" y1="337.2" x2="66.3" y2="351.0" stroke="#4a6aae" stroke-width="1.4"/>
<line x1="60.6" y1="344.0" x2="66.3" y2="344.0" stroke="#2a3a66" stroke-width="0.9"/>
<path d="M66.3,341.5 L67.6,344 L66.3,346.5" fill="none" stroke="#2f4f93" stroke-width="0.8"/>
<text x="55.5" y="335.5" font-size="8.4" font-weight="bold" font-style="italic" fill="#000" stroke="#000" stroke-width="0.2" textLength="18.2" lengthAdjust="spacingAndGlyphs">MYC</text>
<line x1="130" y1="344.4" x2="495.5" y2="344.4" stroke="#3a4466" stroke-width="1.0"/>
<path d="M132.00,340.9 Q134.20,344.3 131.80,347.6 M135.18,340.9 Q137.38,344.3 134.98,347.6 M138.36,340.9 Q140.56,344.3 138.16,347.6 M141.54,340.9 Q143.74,344.3 141.34,347.6 M144.72,340.9 Q146.92,344.3 144.52,347.6 M147.90,340.9 Q150.10,344.3 147.70,347.6 M151.08,340.9 Q153.28,344.3 150.88,347.6 M154.26,340.9 Q156.46,344.3 154.06,347.6 M157.44,340.9 Q159.64,344.3 157.24,347.6 M160.62,340.9 Q162.82,344.3 160.42,347.6 M163.80,340.9 Q166.00,344.3 163.60,347.6 M166.98,340.9 Q169.18,344.3 166.78,347.6 M170.16,340.9 Q172.36,344.3 169.96,347.6 M173.34,340.9 Q175.54,344.3 173.14,347.6 M176.52,340.9 Q178.72,344.3 176.32,347.6 M179.70,340.9 Q181.90,344.3 179.50,347.6 M182.88,340.9 Q185.08,344.3 182.68,347.6 M186.06,340.9 Q188.26,344.3 185.86,347.6 M189.24,340.9 Q191.44,344.3 189.04,347.6 M192.42,340.9 Q194.62,344.3 192.22,347.6 M195.60,340.9 Q197.80,344.3 195.40,347.6 M198.78,340.9 Q200.98,344.3 198.58,347.6 M201.96,340.9 Q204.16,344.3 201.76,347.6 M205.14,340.9 Q207.34,344.3 204.94,347.6 M208.32,340.9 Q210.52,344.3 208.12,347.6 M211.50,340.9 Q213.70,344.3 211.30,347.6 M214.68,340.9 Q216.88,344.3 214.48,347.6 M217.86,340.9 Q220.06,344.3 217.66,347.6 M221.04,340.9 Q223.24,344.3 220.84,347.6 M224.22,340.9 Q226.42,344.3 224.02,347.6 M227.40,340.9 Q229.60,344.3 227.20,347.6 M230.58,340.9 Q232.78,344.3 230.38,347.6 M233.76,340.9 Q235.96,344.3 233.56,347.6 M236.94,340.9 Q239.14,344.3 236.74,347.6 M240.12,340.9 Q242.32,344.3 239.92,347.6 M243.30,340.9 Q245.50,344.3 243.10,347.6 M246.48,340.9 Q248.68,344.3 246.28,347.6 M249.66,340.9 Q251.86,344.3 249.46,347.6 M252.84,340.9 Q255.04,344.3 252.64,347.6 M256.02,340.9 Q258.22,344.3 255.82,347.6 M259.20,340.9 Q261.40,344.3 259.00,347.6 M262.38,340.9 Q264.58,344.3 262.18,347.6 M265.56,340.9 Q267.76,344.3 265.36,347.6 M268.74,340.9 Q270.94,344.3 268.54,347.6 M271.92,340.9 Q274.12,344.3 271.72,347.6 M275.10,340.9 Q277.30,344.3 274.90,347.6 M278.28,340.9 Q280.48,344.3 278.08,347.6 M281.46,340.9 Q283.66,344.3 281.26,347.6 M284.64,340.9 Q286.84,344.3 284.44,347.6 M287.82,340.9 Q290.02,344.3 287.62,347.6 M291.00,340.9 Q293.20,344.3 290.80,347.6 M294.18,340.9 Q296.38,344.3 293.98,347.6 M297.36,340.9 Q299.56,344.3 297.16,347.6 M300.54,340.9 Q302.74,344.3 300.34,347.6 M303.72,340.9 Q305.92,344.3 303.52,347.6 M306.90,340.9 Q309.10,344.3 306.70,347.6 M310.08,340.9 Q312.28,344.3 309.88,347.6 M313.26,340.9 Q315.46,344.3 313.06,347.6 M316.44,340.9 Q318.64,344.3 316.24,347.6 M319.62,340.9 Q321.82,344.3 319.42,347.6 M322.80,340.9 Q325.00,344.3 322.60,347.6 M325.98,340.9 Q328.18,344.3 325.78,347.6 M329.16,340.9 Q331.36,344.3 328.96,347.6 M332.34,340.9 Q334.54,344.3 332.14,347.6 M335.52,340.9 Q337.72,344.3 335.32,347.6 M338.70,340.9 Q340.90,344.3 338.50,347.6 M341.88,340.9 Q344.08,344.3 341.68,347.6 M345.06,340.9 Q347.26,344.3 344.86,347.6 M348.24,340.9 Q350.44,344.3 348.04,347.6 M351.42,340.9 Q353.62,344.3 351.22,347.6 M354.60,340.9 Q356.80,344.3 354.40,347.6 M357.78,340.9 Q359.98,344.3 357.58,347.6 M360.96,340.9 Q363.16,344.3 360.76,347.6 M364.14,340.9 Q366.34,344.3 363.94,347.6 M367.32,340.9 Q369.52,344.3 367.12,347.6 M370.50,340.9 Q372.70,344.3 370.30,347.6 M373.68,340.9 Q375.88,344.3 373.48,347.6 M376.86,340.9 Q379.06,344.3 376.66,347.6 M380.04,340.9 Q382.24,344.3 379.84,347.6 M383.22,340.9 Q385.42,344.3 383.02,347.6 M386.40,340.9 Q388.60,344.3 386.20,347.6 M389.58,340.9 Q391.78,344.3 389.38,347.6 M392.76,340.9 Q394.96,344.3 392.56,347.6 M395.94,340.9 Q398.14,344.3 395.74,347.6 M399.12,340.9 Q401.32,344.3 398.92,347.6 M402.30,340.9 Q404.50,344.3 402.10,347.6 M405.48,340.9 Q407.68,344.3 405.28,347.6 M408.66,340.9 Q410.86,344.3 408.46,347.6 M411.84,340.9 Q414.04,344.3 411.64,347.6 M415.02,340.9 Q417.22,344.3 414.82,347.6 M418.20,340.9 Q420.40,344.3 418.00,347.6 M421.38,340.9 Q423.58,344.3 421.18,347.6 M424.56,340.9 Q426.76,344.3 424.36,347.6 M427.74,340.9 Q429.94,344.3 427.54,347.6 M430.92,340.9 Q433.12,344.3 430.72,347.6 M434.10,340.9 Q436.30,344.3 433.90,347.6 M437.28,340.9 Q439.48,344.3 437.08,347.6 M440.46,340.9 Q442.66,344.3 440.26,347.6 M443.64,340.9 Q445.84,344.3 443.44,347.6 M446.82,340.9 Q449.02,344.3 446.62,347.6 M450.00,340.9 Q452.20,344.3 449.80,347.6 M453.18,340.9 Q455.38,344.3 452.98,347.6 M456.36,340.9 Q458.56,344.3 456.16,347.6 M459.54,340.9 Q461.74,344.3 459.34,347.6 M462.72,340.9 Q464.92,344.3 462.52,347.6 M465.90,340.9 Q468.10,344.3 465.70,347.6 M469.08,340.9 Q471.28,344.3 468.88,347.6 M472.26,340.9 Q474.46,344.3 472.06,347.6 M475.44,340.9 Q477.64,344.3 475.24,347.6 M478.62,340.9 Q480.82,344.3 478.42,347.6 M481.80,340.9 Q484.00,344.3 481.60,347.6 M484.98,340.9 Q487.18,344.3 484.78,347.6 M488.16,340.9 Q490.36,344.3 487.96,347.6" fill="none" stroke="#434b6a" stroke-width="0.88"/>
<line x1="130" y1="337.2" x2="130" y2="351.0" stroke="#5a7abb" stroke-width="1.6"/>
<line x1="244.8" y1="337.2" x2="244.8" y2="351.0" stroke="#6a8ac4" stroke-width="1.8"/>
<line x1="304.0" y1="337.2" x2="304.0" y2="351.0" stroke="#3a5a9c" stroke-width="1.9"/>
<line x1="356.0" y1="337.2" x2="356.0" y2="351.0" stroke="#5a7abb" stroke-width="1.5"/>
<line x1="362.3" y1="337.2" x2="362.3" y2="351.0" stroke="#5a7abb" stroke-width="1.5"/>
<line x1="458.5" y1="337.2" x2="458.5" y2="351.0" stroke="#4a6aae" stroke-width="1.3"/>
<line x1="490.3" y1="337.2" x2="490.3" y2="351.0" stroke="#4a6aae" stroke-width="1.2"/>
<line x1="493.4" y1="337.2" x2="493.4" y2="351.0" stroke="#4a6aae" stroke-width="1.2"/>
<line x1="495.2" y1="337.2" x2="495.2" y2="351.0" stroke="#4a6aae" stroke-width="1.2"/>
<text x="268.3" y="335.7" font-size="8.4" font-weight="bold" font-style="italic" fill="#000" stroke="#000" stroke-width="0.2" textLength="19.7" lengthAdjust="spacingAndGlyphs">PVT1</text>
<rect x="88" y="355.1" width="177.6" height="3.1" fill="#3e1054"/>
<rect x="116.7" y="360.5" width="237.7" height="3.1" fill="#3e1054"/>
<rect x="119.9" y="365.9" width="180.7" height="3.1" fill="#3e1054"/>
<text x="43.3" y="363.8" font-size="7.2" font-weight="bold" fill="#000" stroke="#000" stroke-width="0.25" textLength="28.7" lengthAdjust="spacingAndGlyphs">Deletions</text>
<text x="268" y="359.5" font-size="8" fill="#222">*</text>
<text x="272.3" y="358.9" font-size="8.6" fill="#222" textLength="29.1" lengthAdjust="spacingAndGlyphs">Patient 9</text>
<text x="356.3" y="364.3" font-size="8.6" fill="#222" textLength="33.3" lengthAdjust="spacingAndGlyphs">Patient 16</text>
<text x="302.5" y="371.2" font-size="8.6" fill="#222" textLength="33.6" lengthAdjust="spacingAndGlyphs">Patient 15</text>
<text x="7" y="16.5" font-size="11.2" font-weight="bold" fill="#000" stroke="#000" stroke-width="0.3">A</text>
<text x="246.6" y="16.7" font-size="11.2" font-weight="bold" fill="#000" stroke="#000" stroke-width="0.3">B</text>
<text x="7.3" y="323.1" font-size="11.2" font-weight="bold" fill="#000" stroke="#000" stroke-width="0.3">C</text>
<rect x="0.5" y="0.5" width="519" height="379" fill="none" stroke="#000" stroke-width="1"/>
</svg>
</body></html>
